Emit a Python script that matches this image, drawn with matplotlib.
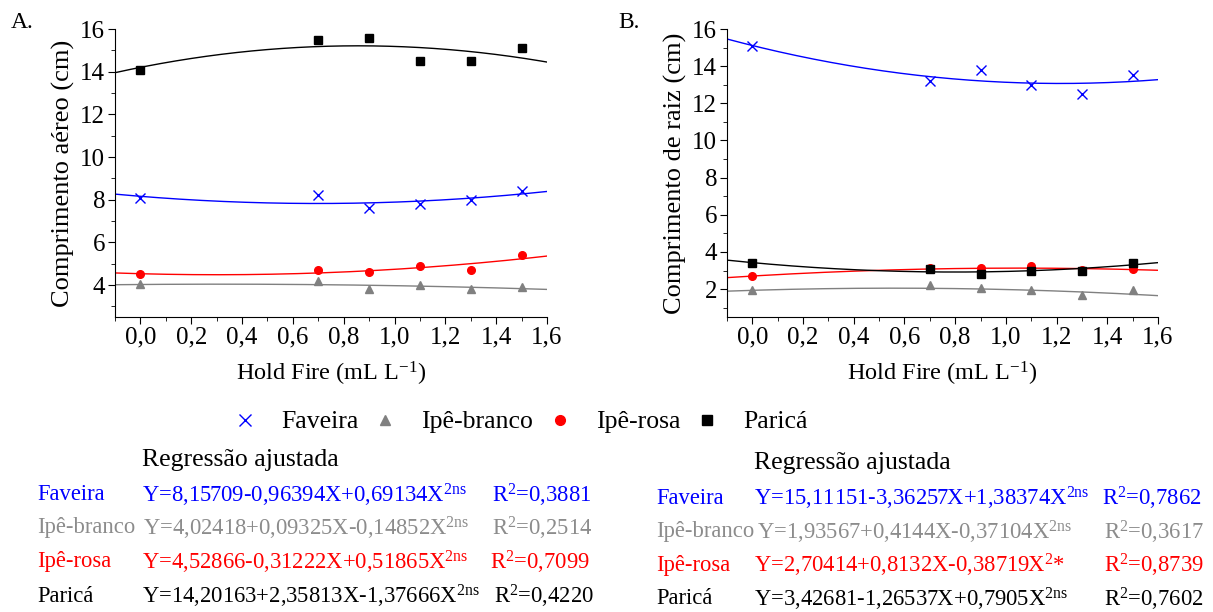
import numpy as np
import matplotlib
matplotlib.use("Agg")
import matplotlib.pyplot as plt
from matplotlib.lines import Line2D
from matplotlib.ticker import MultipleLocator, FuncFormatter

plt.rcParams['font.family'] = ['Liberation Serif', 'DejaVu Serif']
plt.rcParams['mathtext.fontset'] = 'custom'
plt.rcParams['mathtext.rm'] = 'Liberation Serif'
plt.rcParams['mathtext.it'] = 'Liberation Serif:italic'

W, H = 1213, 612

# doses of Hold Fire (mL L-1)
doses = [0.0, 0.7, 0.9, 1.1, 1.3, 1.5]
species = ["Faveira", "Ipê-branco", "Ipê-rosa", "Paricá"]
colors = ["#0000ff", "#808080", "#ff0000", "#000000"]
text_colors = ["#0000ff", "#8c8c8c", "#ff0000", "#000000"]
markers = ["x", "^", "o", "s"]

# A. shoot length (cm)
a_faveira = [8.1, 8.2, 7.6, 7.8, 8.0, 8.4]
a_branco = [4.03, 4.2, 3.83, 4.02, 3.83, 3.9]
a_rosa = [4.52, 4.7, 4.6, 4.9, 4.7, 5.4]
a_parica = [14.1, 15.5, 15.6, 14.5, 14.5, 15.1]
# B. root length (cm)
b_faveira = [15.1, 13.2, 13.8, 13.0, 12.5, 13.5]
b_branco = [1.97, 2.2, 2.05, 1.95, 1.7, 1.95]
b_rosa = [2.72, 3.15, 3.15, 3.22, 3.05, 3.1]
b_parica = [3.42, 3.1, 2.8, 3.0, 3.0, 3.42]

# fitted quadratic coefficients (b0, b1, b2)
a_coef = [(8.15709, -0.96394, 0.69134), (4.02418, 0.09325, -0.14852),
          (4.52866, -0.31222, 0.51865), (14.20163, 2.35813, -1.37666)]
b_coef = [(15.11151, -3.36257, 1.38374), (1.93567, 0.4144, -0.37104),
          (2.70414, 0.8132, -0.38719), (3.42681, -1.26537, 0.7905)]

a_eq = ["Y=8,15709-0,96394X+0,69134X$^{\\mathrm{2ns}}$",
        "Y=4,02418+0,09325X-0,14852X$^{\\mathrm{2ns}}$",
        "Y=4,52866-0,31222X+0,51865X$^{\\mathrm{2ns}}$",
        "Y=14,20163+2,35813X-1,37666X$^{\\mathrm{2ns}}$"]
a_r2 = ["0,3881", "0,2514", "0,7099", "0,4220"]
b_eq = ["Y=15,11151-3,36257X+1,38374X$^{\\mathrm{2ns}}$",
        "Y=1,93567+0,4144X-0,37104X$^{\\mathrm{2ns}}$",
        "Y=2,70414+0,8132X-0,38719X$^{2}$*",
        "Y=3,42681-1,26537X+0,7905X$^{\\mathrm{2ns}}$"]
b_r2 = ["0,7862", "0,3617", "0,8739", "0,7602"]

fig = plt.figure(figsize=(W / 100, H / 100), dpi=100)


def fx(px):
    return px / W


def fy(py):
    return 1 - py / H


def draw_panel(left, right, series, coefs, ylim, ylabel, tag, tagx):
    ax = fig.add_axes([fx(left), fy(317), fx(right - left), (317 - 29) / H])
    xx = np.linspace(-0.1, 1.6, 200)
    for vals, cf, c, m in zip(series, coefs, colors, markers):
        ax.plot(xx, cf[0] + cf[1] * xx + cf[2] * xx ** 2, color=c, lw=1.0, zorder=2)
        if m == "x":
            ax.plot(doses, vals, ls="none", marker=m, color=c, ms=6.5, mew=1.0, zorder=3)
        else:
            ax.plot(doses, vals, ls="none", marker=m, color=c, ms=5.5, zorder=3)
    ax.set_xlim(-0.1, 1.6)
    ax.set_ylim(*ylim)
    ax.spines['top'].set_visible(False)
    ax.spines['right'].set_visible(False)
    ax.xaxis.set_major_locator(MultipleLocator(0.2))
    ax.xaxis.set_minor_locator(MultipleLocator(0.1))
    ax.yaxis.set_major_locator(MultipleLocator(2))
    ax.yaxis.set_minor_locator(MultipleLocator(1))
    ax.xaxis.set_major_formatter(FuncFormatter(lambda v, p: f"{v:.1f}".replace(".", ",")))
    ax.yaxis.set_major_formatter(FuncFormatter(lambda v, p: f"{v:.0f}"))
    ax.tick_params(which="major", direction="out", length=5, labelsize=18, pad=2)
    ax.tick_params(which="minor", direction="out", length=3)
    ax.set_xlabel("Hold Fire (mL L$^{\\mathrm{-1}}$)", fontsize=17.5, labelpad=8)
    ax.set_ylabel(ylabel, fontsize=19, labelpad=4)
    fig.text(fx(tagx), fy(23), tag, fontsize=17, va="center", ha="left")
    return ax


draw_panel(115, 547, [a_faveira, a_branco, a_rosa, a_parica], a_coef, (2.5, 16),
           "Comprimento aéreo (cm)", "A.", 11)
draw_panel(727, 1158, [b_faveira, b_branco, b_rosa, b_parica], b_coef, (0.5, 16),
           "Comprimento de raiz (cm)", "B.", 618)

# legend
handles = [Line2D([], [], ls="none", marker=m, color=c, ms=8 if m == "x" else 7)
           for m, c in zip(markers, colors)]
fig.legend(handles, species, loc="center", bbox_to_anchor=(fx(520), fy(422)),
           ncol=4, frameon=False, fontsize=18.5, handlelength=1.0,
           handletextpad=0.9, columnspacing=0.55, borderpad=0, borderaxespad=0)


# regression text blocks
def reg_block(x_lab, x_eq, x_r2, y_title, x_title, rows_y, eqs, r2s):
    fig.text(fx(x_title), fy(y_title), "Regressão ajustada", fontsize=18.5, va="center")
    for sp, eq, r2, tc, xe, xr, yy in zip(species, eqs, r2s, text_colors, x_eq, x_r2, rows_y):
        fig.text(fx(x_lab), fy(yy), sp, color=tc, fontsize=16.3, va="center")
        fig.text(fx(xe), fy(yy), eq, color=tc, fontsize=16.3, va="center")
        fig.text(fx(xr), fy(yy), "R$^{2}$=" + r2, color=tc, fontsize=16.3, va="center")


reg_block(37, [142, 143, 142, 142], [492, 492, 490, 494], 460, 142,
          [495, 528, 562, 596], a_eq, a_r2)
reg_block(656, [754, 757, 754, 754], [1102, 1104, 1104, 1104], 463, 754,
          [498, 532, 565, 599], b_eq, b_r2)

fig.savefig("out.png", dpi=100)
